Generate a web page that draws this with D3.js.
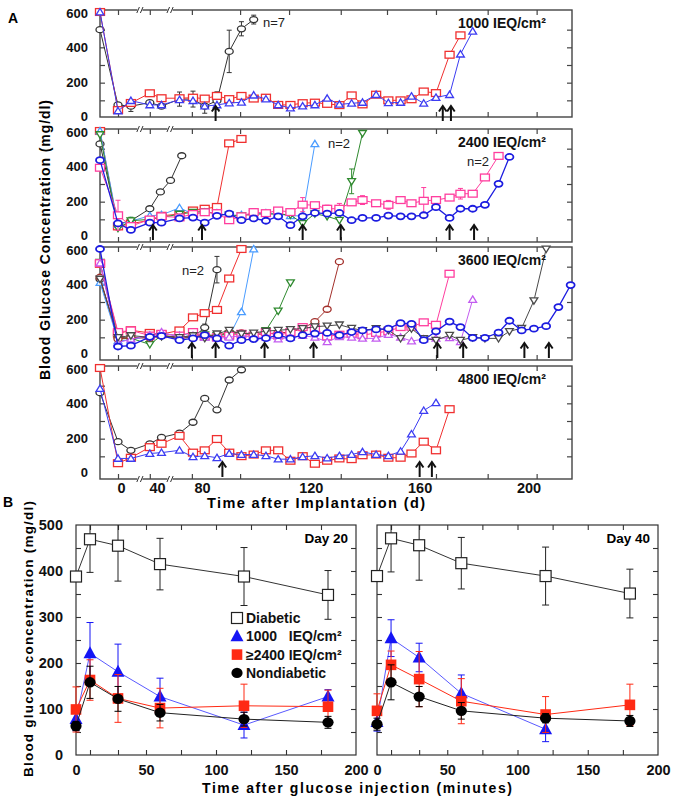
<!DOCTYPE html>
<html><head><meta charset="utf-8">
<script src="https://cdn.jsdelivr.net/npm/d3@7"></script>
<style>body{margin:0;background:#fff} svg{display:block}</style>
</head><body><svg id="c" width="675" height="800"></svg>
<script>
// ---------------- DATA: panel A (days after implantation) ----------------
const dayGrid = [-14,-2,11,32,44,60,72,81,85.5,90,94.5,99,103.5,108,112.5,117,121.5,126,130.5,135,139,144,148.5,153,157,161.5,166,171,175,179.5,184,189,193,197.5,202,206.5,211,215.5];
const xTickDays = [-2, 32, 71, 94, 112, 131, 148, 166, 185, 203];
const xLabelDays = [0, 40, 80, 120, 160, 200];
const breakDays = [21, 51.6];
const yLabelVals = [0, 200, 400, 600];
const yMinorVals = [100, 200, 300, 400, 500];
const panelTitles = ["1000 IEQ/cm²", "2400 IEQ/cm²", "3600 IEQ/cm²", "4800 IEQ/cm²"];

// panel 1 : 1000 IEQ/cm2
const p1Black = [500, 74, 67, 87, 67, 107, 107, 67, 98, 377, 505, 557];
const p1BlackErr = [null, null, 30, null, null, 40, 45, 40, 50, 120, 40, 25];
const p1Red = [600, 45, 85, 140, 112, 112, 115, 110, 125, 107, 125, 110, 115, 74, 74, 84, 87, 80, 73, 128, 77, 132, 100, 100, 106, 150, 141, 358, 468];
const p1Blue = [600, 40, 98, 74, 74, 103, 98, 67, 74, 85, 89, 129, 107, 74, 56, 67, 74, 111, 77, 83, 88, 132, 86, 88, 123, 83, 116, 132, 361, 491];
const p1Arrows = [85, 168.5, 171.5];

// panel 2 : 2400 IEQ/cm2
const p2BlackDays = [-14, -2, 11, 32, 43, 52, 62];
const p2Black = [527, 73, 92, 160, 255, 320, 460];
const p2Red = [600, 60, 75, 95, 120, 130, 150, 160, 170, 530, 555];
const p2LBlue = [600, 70, 90, 120, 125, 165, 130, 140, 135, 120, 125, 130, 135, 130, 120, 120, 527];
const p2Green = [580, 50, 92, 100, 110, 130, 140, 145, 130, 125, 120, 130, 130, 130, 125, 77, 132, 117, 95, 315, 587];
const p2GreenErr = [null, null, 20, null, null, null, null, null, null, null, null, null, null, null, null, 25, null, null, null, 70, null];
const p2Pink = [392, 123, 62, 99, 117, 111, 130, 140, 135, 95, 117, 141, 135, 150, 141, 183, 180, 160, 160, 196, 209, 191, 182, 209, 191, 205, 209, 223, 245, 245, 337, 459];
const p2PinkErr = [null, 85, null, null, null, null, null, null, 20, null, null, 20, null, null, null, 40, null, 20, 30, null, 25, null, 25, null, null, 75, null, null, 30, null, null, 15];
const p2Blue = [435, 77, 40, 81, 81, 105, 110, 81, 120, 132, 95, 105, 92, 117, 67, 117, 136, 132, 136, 95, 108, 108, 121, 117, 117, 123, 169, 108, 160, 160, 182, 301, 453];
const p2Arrows = [35.5, 80, 117, 131, 171, 180];

// panel 3 : 3600 IEQ/cm2
const p3Black = [430, 100, 95, 100, 110, 95, 100, 155, 483];
const p3BlackErr = [null, null, null, null, null, null, null, 20, 75];
const p3Red = [516, 121, 140, 125, 118, 139, 213, 237, 255, 433, 600];
const p3LBlue = [410, 80, 85, 110, 120, 110, 125, 100, 110, 105, 244, 600];
const p3Green = [525, 90, 95, 60, 110, 100, 110, 115, 110, 120, 120, 110, 139, 249, 409];
const p3Brown = [440, 90, 100, 95, 110, 100, 105, 110, 110, 130, 125, 115, 120, 125, 130, 150, 189, 259, 528];
const p3Pink = [520, 130, 139, 110, 120, 110, 130, 105, 100, 110, 120, 110, 130, 110, 130, 158, 150, 105, 115, 120, 112, 125, 135, 158, 160, 185, 171, 460];
const p3Purple = [520, 70, 90, 110, 130, 100, 110, 100, 95, 100, 110, 100, 100, 90, 100, 110, 100, 75, 103, 100, 94, 94, 116, 100, 79, 90, 94, 97, 75, 314];
const p3Gray = [430, 100, 110, 100, 105, 100, 110, 95, 120, 140, 120, 125, 135, 140, 145, 150, 160, 165, 171, 152, 139, 150, 140, 94, 149, 94, 84, 112, 84, 99, 94, 94, 134, 152, 308, 600];
const p3Blue = [600, 48, 53, 103, 108, 84, 94, 112, 94, 53, 84, 90, 95, 112, 94, 112, 121, 125, 112, 130, 139, 145, 149, 180, 176, 84, 134, 189, 158, 97, 97, 127, 194, 139, 149, 163, 271, 396];
const p3Arrows = [71, 85, 103, 121, 166.5, 176, 198.5, 207.5];

// panel 4 : 4800 IEQ/cm2
const p4Black = [460, 183, 134, 171, 207, 231, 293, 428, 363, 532, 590];
const p4Red = [600, 61, 92, 152, 171, 216, 121, 134, 198, 121, 101, 110, 134, 134, 75, 101, 58, 75, 88, 84, 106, 110, 92, 92, 116, 183, 134, 367];
const p4Blue = [483, 88, 88, 116, 121, 134, 97, 103, 92, 116, 110, 110, 103, 84, 84, 97, 103, 90, 103, 110, 125, 110, 103, 128, 226, 359, 403];
const p4Arrows = [87.5, 160, 164.5];

// ---------------- DATA: panel B (glucose tolerance) ----------------
const bTimes = [0, 10, 30, 60, 120, 180];
const bXTicks = [10, 30, 50, 75, 100, 125, 150, 175];
const bXLabels = [0, 50, 100, 150, 200];
const bYLabels = [0, 100, 200, 300, 400, 500];
const bYMinor = [50, 100, 150, 200, 250, 300, 350, 400, 450];
const legendLabels = ["Diabetic", "1000   IEQ/cm²", "≥2400 IEQ/cm²", "Nondiabetic"];
const d20Diab = [388, 469, 455, 415, 388, 348], d20DiabErr = [0, 72, 77, 56, 63, 53];
const d20Low = [78, 221, 181, 127, 65, 127], d20LowErr = [25, 67, 60, 40, 28, 15];
const d20High = [99, 163, 123, 102, 107, 105], d20HighErr = [49, 44, 52, 43, 47, 36];
const d20Non = [63, 158, 122, 92, 78, 71], d20NonErr = [10, 35, 27, 18, 15, 13];
const d40Diab = [389, 471, 456, 417, 389, 351], d40DiabErr = [0, 73, 76, 56, 63, 53];
const d40Low = [72, 254, 212, 134, 56], d40LowErr = [20, 40, 31, 40, 27];
const d40High = [96, 196, 165, 117, 88, 109], d40HighErr = [37, 30, 60, 49, 39, 45];
const d40Non = [67, 158, 127, 96, 80, 74], d40NonErr = [13, 38, 22, 18, 10, 12];

// ---------------- DRAWING ----------------
const F = '"Liberation Sans", Arial, Helvetica, sans-serif';
const svg = d3.select('#c').attr('font-family', F);
svg.append('rect').attr('width', 675).attr('height', 800).attr('fill', '#fff');

const xA = d3.scaleLinear().domain([-14, 0, 40, 80, 216]).range([100, 121, 157, 202, 572]);
const tops = [10, 129, 247, 366], bots = [117, 242, 360, 479];
const yA = tops.map(t => d3.scaleLinear().domain([0, 600]).range([t + 108, t + 2]));

const C = {black:'#333', red:'#f03030', bluet:'#3c3cf2', bluec:'#1c1ce0', pink:'#ff3d9e', lblue:'#4a9cff', green:'#2f8a2f', brown:'#a3302b', purple:'#c35cf0', gray:'#4a4a4a'};

const panels = [
  [ {v:p1Black, e:p1BlackErr, c:C.black, s:'circle'}, {v:p1Red, c:C.red, s:'square'}, {v:p1Blue, c:C.bluet, s:'tri'} ],
  [ {v:p2Black, d:p2BlackDays, c:C.black, s:'circle'}, {v:p2Red, c:C.red, s:'square'}, {v:p2LBlue, c:C.lblue, s:'tri'},
    {v:p2Green, e:p2GreenErr, c:C.green, s:'tridown'}, {v:p2Pink, e:p2PinkErr, c:C.pink, s:'square'}, {v:p2Blue, c:C.bluec, s:'circle', w:1.8} ],
  [ {v:p3Black, e:p3BlackErr, c:C.black, s:'circle'}, {v:p3Red, c:C.red, s:'square'}, {v:p3LBlue, c:C.lblue, s:'tri'},
    {v:p3Green, c:C.green, s:'tridown'}, {v:p3Brown, c:C.brown, s:'circle'}, {v:p3Pink, c:C.pink, s:'square'},
    {v:p3Purple, c:C.purple, s:'tri'}, {v:p3Gray, c:C.gray, s:'tridown'}, {v:p3Blue, c:C.bluec, s:'circle', w:1.8} ],
  [ {v:p4Black, c:C.black, s:'circle'}, {v:p4Red, c:C.red, s:'square'}, {v:p4Blue, c:C.bluet, s:'tri'} ]
];
const arrows = [p1Arrows, p2Arrows, p3Arrows, p4Arrows];

function drawMarker(g, shape, cx, cy, color, fill, sw) {
  if (shape === 'circle') {
    g.append('ellipse').attr('cx', cx).attr('cy', cy).attr('rx', 4).attr('ry', 3)
      .attr('fill', fill).attr('stroke', color).attr('stroke-width', sw);
  } else if (shape === 'square') {
    g.append('rect').attr('x', cx - 4.5).attr('y', cy - 3.4).attr('width', 9).attr('height', 6.8)
      .attr('fill', fill).attr('stroke', color).attr('stroke-width', sw);
  } else if (shape === 'tri') {
    g.append('path').attr('d', `M${cx},${cy - 3.6}L${cx + 3.9},${cy + 2.8}L${cx - 3.9},${cy + 2.8}Z`)
      .attr('fill', fill).attr('stroke', color).attr('stroke-width', sw);
  } else if (shape === 'tridown') {
    g.append('path').attr('d', `M${cx},${cy + 3.6}L${cx + 3.9},${cy - 2.8}L${cx - 3.9},${cy - 2.8}Z`)
      .attr('fill', fill).attr('stroke', color).attr('stroke-width', sw);
  }
}

function styleText(sel, size, weight) {
  sel.selectAll('text').attr('font-size', size).attr('font-weight', weight || 'bold')
     .attr('font-family', F).attr('fill', '#111');
}

panels.forEach((series, i) => {
  const y = yA[i];
  const g = svg.append('g');
  const y0 = y(0);
  const tk = s => { s.select('.domain').remove(); s.selectAll('line').attr('stroke', '#444').attr('stroke-width', 1.2); };
  g.append('g').attr('transform', 'translate(100,0)')
    .call(d3.axisLeft(y).tickValues(yMinorVals).tickSize(-5).tickFormat('')).call(tk);
  g.append('g').attr('transform', 'translate(572,0)')
    .call(d3.axisRight(y).tickValues(yMinorVals).tickSize(-5).tickFormat('')).call(tk);
  g.append('g').attr('transform', `translate(0,${tops[i]})`)
    .call(d3.axisTop(xA).tickValues(xTickDays).tickSize(-5).tickFormat('')).call(tk);
  g.append('g').attr('transform', `translate(0,${bots[i]})`)
    .call(d3.axisBottom(xA).tickValues(xTickDays).tickSize(-5).tickFormat('')).call(tk);
  // y labels (0 nudged up, 600 nudged down so stacked panels' labels stay apart)
  g.append('g').attr('transform', 'translate(100,0)')
    .call(d3.axisLeft(y).tickValues(yLabelVals).tickSize(0).tickPadding(12).tickFormat(d3.format('d')))
    .call(s => { s.select('.domain').remove(); styleText(s, 13);
      s.selectAll('.tick').filter(d => d === 0).select('text').attr('y', -2);
      s.selectAll('.tick').filter(d => d === 600).select('text').attr('y', 1.5); });
  // frame
  g.append('rect').attr('x', 100).attr('y', tops[i]).attr('width', 472).attr('height', bots[i] - tops[i])
    .attr('fill', 'none').attr('stroke', '#444').attr('stroke-width', 1.4);
  // break marks
  const brkY = [tops[i]].concat(i === 3 ? [bots[i]] : []);
  brkY.forEach(by => breakDays.forEach(bd => {
    const bx = xA(bd);
    g.append('rect').attr('x', bx - 2.5).attr('y', by - 1.5).attr('width', 5).attr('height', 3).attr('fill', '#fff');
    [-1.8, 1.8].forEach(o => g.append('line').attr('x1', bx + o - 1.3).attr('y1', by + 3).attr('x2', bx + o + 1.3).attr('y2', by - 3)
      .attr('stroke', '#333').attr('stroke-width', 1));
  }));
  // series
  series.forEach(S => {
    const days = S.d || dayGrid;
    const pts = S.v.map((v, j) => ({d: days[j], v: v, e: S.e ? S.e[j] : null})).filter(p => p.v != null);
    const sg = g.append('g');
    pts.forEach(p => {
      if (p.e) {
        const x = xA(p.d), ya = y(p.v - p.e), yb = y(Math.min(600, p.v + p.e));
        sg.append('line').attr('x1', x).attr('x2', x).attr('y1', ya).attr('y2', yb).attr('stroke', S.c).attr('stroke-width', 1);
        [ya, yb].forEach(yy => sg.append('line').attr('x1', x - 2.5).attr('x2', x + 2.5).attr('y1', yy).attr('y2', yy).attr('stroke', S.c).attr('stroke-width', 1));
      }
    });
    sg.append('path').datum(pts).attr('fill', 'none').attr('stroke', S.c).attr('stroke-width', S.w ? 1.3 : 1)
      .attr('d', d3.line().x(p => xA(p.d)).y(p => y(p.v)));
    pts.forEach(p => drawMarker(sg, S.s, xA(p.d), y(p.v), S.c, '#fff', S.w || 1.3));
  });
  // arrows
  arrows[i].forEach(ad => {
    const ax = xA(ad), tip = y0 - 12, tail = y0 + 3;
    g.append('line').attr('x1', ax).attr('x2', ax).attr('y1', tail).attr('y2', tip + 1).attr('stroke', '#111').attr('stroke-width', 2);
    g.append('path').attr('d', `M${ax - 3.8},${tip + 5.5}L${ax},${tip}L${ax + 3.8},${tip + 5.5}`)
      .attr('fill', 'none').attr('stroke', '#111').attr('stroke-width', 2);
  });
  // title
  g.append('text').attr('x', 458).attr('y', tops[i] + 18).attr('font-size', 14).attr('font-weight', 'bold')
    .attr('fill', '#111').text(panelTitles[i]);
});

// x labels for panel A
svg.append('g').attr('transform', `translate(0,${bots[3]})`)
  .call(d3.axisBottom(xA).tickValues(xLabelDays).tickSize(0).tickPadding(4).tickFormat(d3.format('d')))
  .call(s => { s.select('.domain').remove(); styleText(s, 14.5); });

// annotations panel A
const ann = [["n=7", 263, 27], ["n=2", 328, 148], ["n=2", 467, 166], ["n=2", 182, 275]];
ann.forEach(a => svg.append('text').attr('x', a[1]).attr('y', a[2]).attr('font-size', 13).attr('fill', '#222').text(a[0]));

svg.append('text').attr('x', 8).attr('y', 23).attr('font-size', 14).attr('font-weight', 'bold').text('A');
svg.append('text').attr('x', 3).attr('y', 507).attr('font-size', 14).attr('font-weight', 'bold').text('B');
svg.append('text').attr('transform', 'translate(50,240) rotate(-90)').attr('text-anchor', 'middle')
  .attr('font-size', 14).attr('font-weight', 'bold').attr('textLength', 280).attr('lengthAdjust', 'spacing')
  .text('Blood Glucose Concentration (mg/dl)');
svg.append('text').attr('x', 316).attr('y', 508).attr('text-anchor', 'middle')
  .attr('font-size', 14.5).attr('font-weight', 'bold').attr('textLength', 218).attr('lengthAdjust', 'spacing')
  .text('Time after Implantation (d)');

// ---------------- Panel B ----------------
const yB = d3.scaleLinear().domain([0, 500]).range([755, 525]);
const plotsB = [
  {x: d3.scaleLinear().domain([0, 200]).range([76, 356]), label: 'Day 20',
   s: [[d20Diab, d20DiabErr], [d20Low, d20LowErr], [d20High, d20HighErr], [d20Non, d20NonErr]]},
  {x: d3.scaleLinear().domain([0, 200]).range([377, 658]), label: 'Day 40',
   s: [[d40Diab, d40DiabErr], [d40Low, d40LowErr], [d40High, d40HighErr], [d40Non, d40NonErr]]}
];
const bStyle = [
  {c:'#222', line:'#333', shape:'bsq'},
  {c:'#1515f5', line:'#5a5aff', shape:'btri'},
  {c:'#ff2a14', line:'#ff2a14', shape:'bsqf'},
  {c:'#000', line:'#222', shape:'bdot'}
];
function drawBMarker(g, shape, cx, cy) {
  if (shape === 'bsq') g.append('rect').attr('x', cx - 5.5).attr('y', cy - 5.5).attr('width', 11).attr('height', 11).attr('fill', '#fff').attr('stroke', '#222').attr('stroke-width', 1.2);
  if (shape === 'bsqf') g.append('rect').attr('x', cx - 5.3).attr('y', cy - 5.3).attr('width', 10.6).attr('height', 10.6).attr('fill', '#ff2a14');
  if (shape === 'btri') g.append('path').attr('d', `M${cx},${cy - 7}L${cx + 6.5},${cy + 5}L${cx - 6.5},${cy + 5}Z`).attr('fill', '#1515f5');
  if (shape === 'bdot') g.append('ellipse').attr('cx', cx).attr('cy', cy).attr('rx', 5.6).attr('ry', 5.2).attr('fill', '#000');
}
plotsB.forEach(P => {
  const g = svg.append('g');
  const x = P.x, x0 = x.range()[0], x1 = x.range()[1];
  const tk = s => { s.select('.domain').remove(); s.selectAll('line').attr('stroke', '#333').attr('stroke-width', 1.1); };
  g.append('g').attr('transform', `translate(${x0},0)`).call(d3.axisLeft(yB).tickValues(bYMinor).tickSize(-5).tickFormat('')).call(tk);
  g.append('g').attr('transform', `translate(${x1},0)`).call(d3.axisRight(yB).tickValues(bYMinor).tickSize(-5).tickFormat('')).call(tk);
  g.append('g').attr('transform', 'translate(0,525)').call(d3.axisTop(x).tickValues(bXTicks).tickSize(-5).tickFormat('')).call(tk);
  g.append('g').attr('transform', 'translate(0,755)').call(d3.axisBottom(x).tickValues(bXTicks).tickSize(-5).tickFormat('')).call(tk);
  g.append('g').attr('transform', 'translate(0,755)').call(d3.axisBottom(x).tickValues(bXLabels).tickSize(0).tickPadding(10).tickFormat(d3.format('d')))
    .call(s => { s.select('.domain').remove(); styleText(s, 14.5); });
  g.append('rect').attr('x', x0).attr('y', 525).attr('width', x1 - x0).attr('height', 230).attr('fill', 'none').attr('stroke', '#333').attr('stroke-width', 1.2);
  P.s.forEach((ser, k) => {
    const st = bStyle[k], vals = ser[0], errs = ser[1];
    const pts = vals.map((v, j) => ({t: bTimes[j], v: v, e: errs[j]}));
    const sg = g.append('g');
    sg.append('path').datum(pts).attr('fill', 'none').attr('stroke', st.line).attr('stroke-width', 1)
      .attr('d', d3.line().x(p => x(p.t)).y(p => yB(p.v)));
    pts.forEach(p => {
      if (p.e) {
        const xx = x(p.t), ya = yB(Math.max(0, p.v - p.e)), yb = yB(Math.min(500, p.v + p.e));
        sg.append('line').attr('x1', xx).attr('x2', xx).attr('y1', ya).attr('y2', yb).attr('stroke', st.c).attr('stroke-width', 1);
        [ya, yb].forEach((yy, q) => { if (q === 1 && p.v + p.e > 500) return;
          sg.append('line').attr('x1', xx - 3.5).attr('x2', xx + 3.5).attr('y1', yy).attr('y2', yy).attr('stroke', st.c).attr('stroke-width', 1); });
      }
    });
    pts.forEach(p => drawBMarker(sg, st.shape, x(p.t), yB(p.v)));
  });
  g.append('text').attr('x', x1 - 8).attr('y', 543).attr('text-anchor', 'end').attr('font-size', 13.5).attr('font-weight', 'bold').text(P.label);
});
// y labels B
svg.append('g').attr('transform', 'translate(76,0)')
  .call(d3.axisLeft(yB).tickValues(bYLabels).tickSize(0).tickPadding(13).tickFormat(d3.format('d')))
  .call(s => { s.select('.domain').remove(); styleText(s, 14.5); });
// legend
const lg = svg.append('g');
legendLabels.forEach((lab, k) => {
  const ly = 618 + k * 18.3;
  drawBMarker(lg, bStyle[k].shape, 237, ly);
  lg.append('text').attr('x', 246).attr('y', ly + 5).attr('font-size', 14).attr('font-weight', 'bold').attr('fill', '#111')
    .style('white-space', 'pre').text(lab);
});
svg.append('text').attr('transform', 'translate(33,639) rotate(-90)').attr('text-anchor', 'middle')
  .attr('font-size', 13.5).attr('font-weight', 'bold').attr('textLength', 276).attr('lengthAdjust', 'spacing')
  .text('Blood glucose concentration (mg/dl)');
svg.append('text').attr('x', 357).attr('y', 793).attr('text-anchor', 'middle')
  .attr('font-size', 14).attr('font-weight', 'bold').attr('textLength', 310).attr('lengthAdjust', 'spacing')
  .text('Time after glucose injection (minutes)');
</script>
</body></html>
